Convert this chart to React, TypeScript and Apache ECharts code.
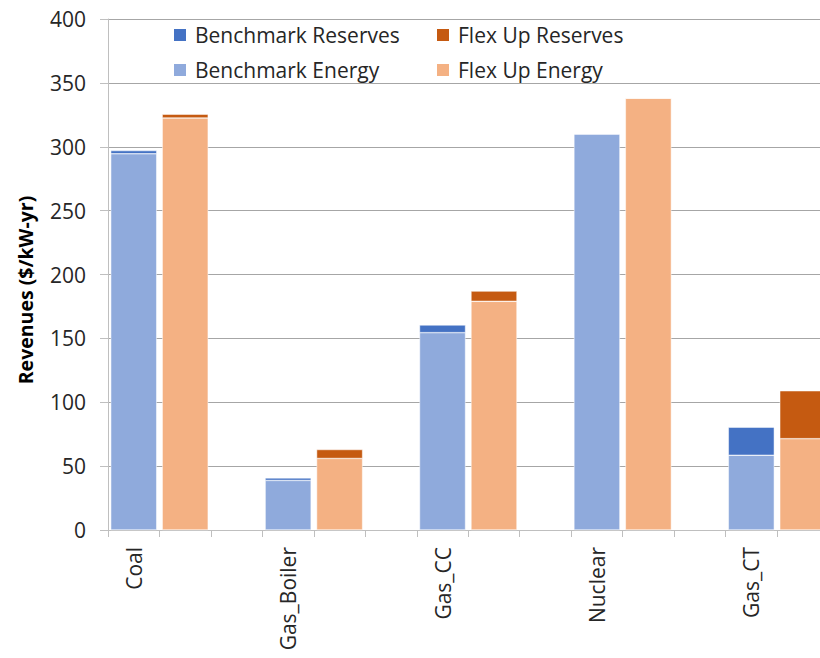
import React, { useEffect, useRef } from "react";
import * as echarts from "echarts";

const plants = ["Coal", "Gas_Boiler", "Gas_CC", "Nuclear", "Gas_CT"];
const benchmarkEnergy = [294.5, 38.8, 154.5, 310, 58.5];
const benchmarkReserves = [2.5, 2, 6, 0, 22];
const flexEnergy = [322.5, 56, 179, 338, 71.5];
const flexReserves = [3, 7, 8, 0, 37.5];
const yTicks = [0, 50, 100, 150, 200, 250, 300, 350, 400];
const yTitle = "Revenues ($/kW-yr)";

const C_BR = "#4472C4";
const C_BE = "#8FAADC";
const C_FR = "#C55A11";
const C_FE = "#F4B183";
const FONT = "'Open Sans', 'Noto Sans', sans-serif";

export default function App() {
  const ref = useRef<HTMLDivElement>(null);
  useEffect(() => {
    if (!ref.current) return;
    const chart = echarts.init(ref.current, null, { renderer: "svg" });

    // 3 slots per plant: benchmark, flex up, blank (last blank omitted)
    const slots: string[] = [];
    const be: (number | null)[] = [];
    const br: (number | null)[] = [];
    const fe: (number | null)[] = [];
    const fr: (number | null)[] = [];
    plants.forEach((p, i) => {
      const gap = i < plants.length - 1;
      slots.push(p, " ", ...(gap ? ["  "] : []));
      be.push(benchmarkEnergy[i], null, ...(gap ? [null] : []));
      br.push(benchmarkReserves[i], null, ...(gap ? [null] : []));
      fe.push(null, flexEnergy[i], ...(gap ? [null] : []));
      fr.push(null, flexReserves[i], ...(gap ? [null] : []));
    });

    const barStyle = (c: string) => ({ color: c, borderColor: "#ffffff", borderWidth: 0.5 });
    const mkLegend = (name: string, left: number, top: number) => ({
      data: [name],
      left,
      top,
      orient: "horizontal",
      icon: "rect",
      itemWidth: 14,
      itemHeight: 14,
      selectedMode: false,
      padding: 0,
      textStyle: { fontFamily: FONT, fontSize: 21, color: "#262626", lineHeight: 22, padding: [0, 0, 0, 3] },
    });

    chart.setOption({
      animation: false,
      legend: [
        mkLegend("Benchmark Reserves", 172, 24),
        mkLegend("Flex Up Reserves", 435, 24),
        mkLegend("Benchmark Energy", 172, 59),
        mkLegend("Flex Up Energy", 435, 59),
      ],
      graphic: [
        {
          type: "text",
          x: 25,
          y: 290,
          rotation: Math.PI / 2,
          style: {
            text: yTitle,
            fontFamily: FONT,
            fontSize: 19.5,
            fontWeight: "bold",
            fill: "#000000",
            textAlign: "center",
            textVerticalAlign: "middle",
          },
        },
      ],
      grid: { left: 108, top: 19, width: 720.5, height: 511, containLabel: false },
      xAxis: {
        type: "category",
        data: slots,
        axisLine: { show: true, lineStyle: { color: "#bfbfbf", width: 1 } },
        axisTick: { show: true, interval: 0, alignWithLabel: false, length: 7, lineStyle: { color: "#bfbfbf" } },
        axisLabel: {
          interval: 0,
          rotate: 90,
          margin: 17,
          fontFamily: FONT,
          fontSize: 21,
          color: "#262626",
        },
      },
      yAxis: {
        type: "value",
        min: 0,
        max: 400,
        interval: 50,
        axisLine: { show: true, lineStyle: { color: "#bfbfbf", width: 1 } },
        axisTick: { show: true, length: 8, lineStyle: { color: "#bfbfbf" } },
        splitLine: { show: true, lineStyle: { color: "#a6a6a6", width: 1 } },
        axisLabel: {
          margin: 22,
          fontFamily: FONT,
          fontSize: 21,
          color: "#262626",
          formatter: (v: number) => (yTicks.includes(v) ? String(v) : ""),
        },
      },
      series: [
        { name: "Benchmark Energy", type: "bar", stack: "all", data: be, barWidth: 46, itemStyle: barStyle(C_BE) },
        { name: "Benchmark Reserves", type: "bar", stack: "all", data: br, barWidth: 46, itemStyle: barStyle(C_BR) },
        { name: "Flex Up Energy", type: "bar", stack: "all", data: fe, barWidth: 46, itemStyle: barStyle(C_FE) },
        { name: "Flex Up Reserves", type: "bar", stack: "all", data: fr, barWidth: 46, itemStyle: barStyle(C_FR) },
      ],
    });
    return () => chart.dispose();
  }, []);

  return (
    <div style={{ position: "fixed", left: 0, top: 0, width: 820, height: 658, overflow: "hidden", background: "#fff" }}>
      <div ref={ref} style={{ width: 840, height: 658 }} />
    </div>
  );
}
